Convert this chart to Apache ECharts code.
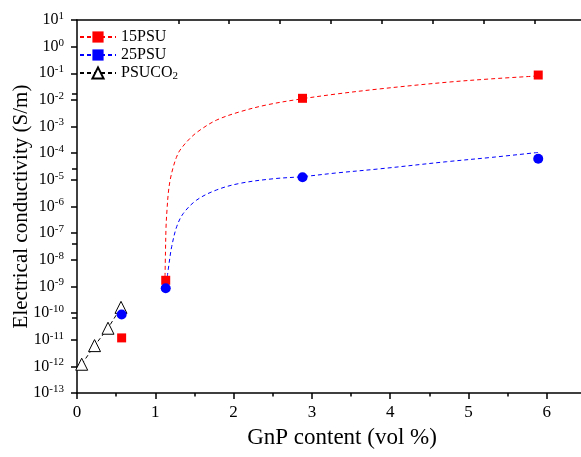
<!DOCTYPE html>
<html>
<head>
<meta charset="utf-8">
<script src="https://cdn.jsdelivr.net/npm/echarts@6/dist/echarts.min.js"></script>
<style>html,body{margin:0;padding:0;background:#fff}#c{width:581px;height:457px}</style>
</head>
<body>
<div id="c"></div>
<script>
// measured points
const psu15Points = [[0.57, 1.17e-11], [1.133, 1.7e-9], [2.88, 1.15e-2], [5.89, 8.6e-2]];
const psu25Points = [[0.57, 8.9e-11], [1.133, 8.5e-10], [2.88, 1.26e-5], [5.89, 6.2e-5]];
const psuco2Points = [[0.06, 1.2e-12], [0.224, 6.0e-12], [0.396, 2.7e-11], [0.562, 1.64e-10]];
// fitted curves
const psu15Fit = [[1.124, 2.3e-9], [1.13, 2e-8], [1.137, 1.7e-7], [1.15, 8e-7], [1.166, 3.2e-6], [1.19, 1e-5], [1.23, 3.1e-5], [1.27, 7e-5], [1.315, 1.3e-4], [1.443, 3.6e-4], [1.571, 7.4e-4], [1.784, 1.76e-3], [2.082, 3.6e-3], [2.423, 6.5e-3], [2.826, 1.05e-2], [3.3, 1.65e-2], [3.87, 2.6e-2], [4.72, 4.6e-2], [5.3, 6.2e-2], [5.875, 7.9e-2]];
const psu25Fit = [[1.153, 2.3e-9], [1.18, 9e-9], [1.209, 3.1e-8], [1.273, 1.74e-7], [1.358, 5.5e-7], [1.529, 1.75e-6], [1.784, 4.2e-6], [2.082, 7.4e-6], [2.507, 1.1e-5], [2.88, 1.32e-5], [3.3, 1.8e-5], [3.87, 2.6e-5], [4.72, 4.8e-5], [5.3, 7.0e-5], [5.89, 1.07e-4]];
const legendNames = ['15PSU', '25PSU', 'PSUCO2'];
const xTickLabels = [0, 1, 2, 3, 4, 5, 6];
const xMinorTicks = [0.5, 1.5, 2.5, 3.5, 4.5, 5.5];
const topTicks = [1.294, 1.944, 2.594, 3.244, 3.895, 4.546, 5.195, 5.845];
const rightTicks = [75.3, 149.7, 224.7, 299];

const FONT = 'Liberation Serif';
const chart = echarts.init(document.getElementById('c'), null, {renderer: 'canvas'});
const axisLine = {show: true, lineStyle: {color: '#000', width: 1.5}};
chart.setOption({
  animation: false,
  backgroundColor: '#fff',
  grid: {left: 77, top: 20, width: 509, height: 373, containLabel: false, outerBoundsMode: 'none'},
  legend: {
    data: legendNames,
    orient: 'vertical', left: 79, top: 29, itemGap: 2, padding: 0,
    itemWidth: 36, itemHeight: 14,
    textStyle: {fontFamily: FONT, fontSize: 16, color: '#000',
      rich: {a: {fontFamily: FONT, fontSize: 16, color: '#000'},
             sub: {fontFamily: FONT, fontSize: 11, color: '#000', verticalAlign: 'bottom', padding: [7, 0, 0, 0]}}},
    formatter: function (n) { return n === 'PSUCO2' ? '{a|PSUCO}{sub|2}' : '{a|' + n + '}'; }
  },
  xAxis: [
    {type: 'value', min: 0, max: 6.5, interval: 1, position: 'bottom',
     name: 'GnP content (vol %)', nameLocation: 'middle', nameGap: 33, nameMoveOverlap: false,
     nameTextStyle: {fontFamily: FONT, fontSize: 23, color: '#000', padding: [0, 0, 0, 21]},
     axisLine: axisLine, splitLine: {show: false},
     axisTick: {show: true, length: 6, lineStyle: {color: '#000', width: 1.5}},
     axisLabel: {customValues: xTickLabels, fontFamily: FONT, fontSize: 17, color: '#000', margin: 11}},
    {type: 'value', min: 0, max: 6.5, position: 'bottom',
     axisLine: {show: false}, splitLine: {show: false}, axisLabel: {show: false},
     axisTick: {show: true, customValues: xMinorTicks, length: 3.5, lineStyle: {color: '#000', width: 1.5}}},
    {type: 'value', min: 0, max: 6.5, position: 'top',
     axisLine: axisLine, splitLine: {show: false}, axisLabel: {show: false},
     axisTick: {show: true, inside: true, customValues: topTicks, length: 4, lineStyle: {color: '#000', width: 1.5}}}
  ],
  yAxis: [
    {type: 'log', logBase: 10, min: 1e-13, max: 10, interval: 1, position: 'left',
     name: 'Electrical conductivity (S/m)', nameLocation: 'middle', nameGap: 45, nameMoveOverlap: false,
     nameTextStyle: {fontFamily: FONT, fontSize: 21, color: '#000'},
     axisLine: axisLine, splitLine: {show: false},
     axisTick: {show: true, length: 6, lineStyle: {color: '#000', width: 1.5}},
     axisLabel: {margin: 13, fontFamily: FONT, color: '#000',
       formatter: function (v) { const e = Math.round(Math.log10(v)); return '{b|10}{s|' + e + '}'; },
       rich: {b: {fontFamily: FONT, fontSize: 16, color: '#000'},
              s: {fontFamily: FONT, fontSize: 11, color: '#000', verticalAlign: 'top', padding: [0, 0, 8, 0]}}}},
    {type: 'value', min: 0, max: 373, position: 'right',
     axisLine: {show: false}, splitLine: {show: false}, axisLabel: {show: false},
     axisTick: {show: true, inside: true, customValues: rightTicks, length: 5, lineStyle: {color: '#000', width: 1.5}}}
  ],
  series: [
    {name: 'PSUCO2', type: 'line', data: psuco2Points, symbol: 'triangle', symbolSize: 12,
     itemStyle: {color: '#fff', borderColor: '#000', borderWidth: 1},
     lineStyle: {color: '#000', width: 1, type: [4, 3]}, z: 3},
    {name: '15PSU', type: 'line', data: psu15Fit, symbol: 'rect', symbolSize: 9, showSymbol: false,
     smooth: 0.35, itemStyle: {color: '#ff0000'},
     lineStyle: {color: '#ff0000', width: 1, type: [4, 3]}, z: 2},
    {name: '25PSU', type: 'line', data: psu25Fit, symbol: 'rect', symbolSize: 9, showSymbol: false,
     smooth: 0.35, itemStyle: {color: '#0000ff'},
     lineStyle: {color: '#0000ff', width: 1, type: [4, 3]}, z: 2},
    {name: '15PSU', type: 'scatter', data: psu15Points, symbol: 'rect', symbolSize: 9,
     itemStyle: {color: '#ff0000', opacity: 1}, z: 4},
    {name: '25PSU', type: 'scatter', data: psu25Points, symbol: 'circle', symbolSize: 10,
     itemStyle: {color: '#0000ff', opacity: 1}, z: 5}
  ]
});
</script>
</body>
</html>
